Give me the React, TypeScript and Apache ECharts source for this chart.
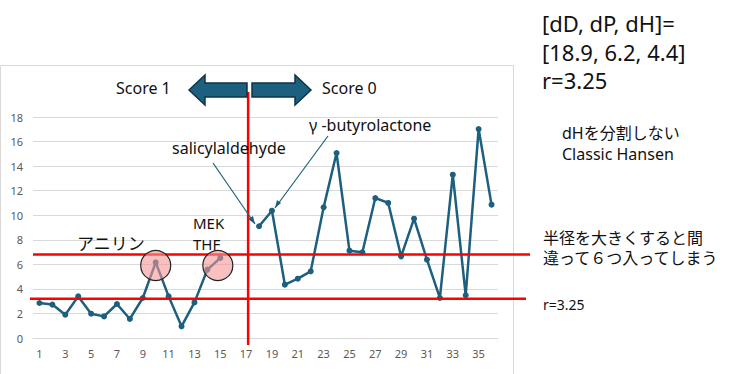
import React, { useEffect, useRef } from "react";
import * as echarts from "echarts";

const categories: string[] = Array.from({ length: 36 }, (_, i) => String(i + 1));
const scores: (number | null)[] = [
  2.85, 2.72, 1.9, 3.39, 1.98, 1.76, 2.77, 1.55, 3.26, 6.16,
  3.39, 0.95, 2.9, 5.57, 6.52, null, null, 9.1, 10.37, 4.34,
  4.83, 5.43, 10.64, 15.07, 7.11, 6.98, 11.4, 11.0, 6.65, 9.72,
  6.38, 3.26, 13.3, 3.48, 17.02, 10.86,
];
const upperLine = 6.8;
const lowerLine = 3.2;
const splitCategory = "17";
const circledA = "10";
const circledB = ["14", "15"];

const FONT = "'Noto Sans', 'Noto Sans CJK JP', sans-serif";
const TEAL = "#1d5f7e";

export default function App() {
  const ref = useRef<HTMLDivElement>(null);
  useEffect(() => {
    if (!ref.current) return;
    const chart = echarts.init(ref.current, null, { renderer: "svg" });
    chart.setOption({
      animation: false,
      backgroundColor: "#ffffff",
      grid: { left: 33, right: 257, top: 117, bottom: 36 },
      xAxis: {
        type: "category",
        data: categories,
        boundaryGap: true,
        axisLine: { show: true, lineStyle: { color: "#d9d9d9" } },
        axisTick: { show: false },
        axisLabel: { interval: 1, color: "#595959", fontSize: 11, margin: 10, fontFamily: "Noto Sans" },
      },
      yAxis: {
        type: "value",
        min: 0,
        max: 18,
        interval: 2,
        axisLine: { show: false },
        axisTick: { show: false },
        splitLine: { lineStyle: { color: "#d9d9d9", width: 1 } },
        axisLabel: { color: "#595959", fontSize: 11, margin: 10, fontFamily: "Noto Sans" },
      },
      series: [
        {
          type: "line",
          data: scores,
          connectNulls: false,
          symbol: "circle",
          symbolSize: 6,
          lineStyle: { color: TEAL, width: 2.5 },
          itemStyle: { color: TEAL },
          z: 3,
        },
      ],
    });

    const yU = chart.convertToPixel({ gridIndex: 0 }, [0, upperLine])[1];
    const yL = chart.convertToPixel({ gridIndex: 0 }, [0, lowerLine])[1];
    const xS = chart.convertToPixel({ gridIndex: 0 }, [splitCategory, 0])[0] + 2;
    const pA = chart.convertToPixel({ gridIndex: 0 }, [circledA, 6])[0];
    const pB1 = chart.convertToPixel({ gridIndex: 0 }, [circledB[0], 6])[0];
    const pB2 = chart.convertToPixel({ gridIndex: 0 }, [circledB[1], 6])[0];
    const cyCircle = chart.convertToPixel({ gridIndex: 0 }, [0, 5.9])[1];

    const txt = (x: number, y: number, text: string, size: number, extra: any = {}) => ({
      type: "text",
      x,
      y,
      z: 20,
      style: { text, fill: "#111", fontSize: size, fontFamily: FONT, textVerticalAlign: "middle", ...extra },
    });

    chart.setOption({
      graphic: [
        { type: "rect", shape: { x: 0.5, y: 65.5, width: 513, height: 330 }, style: { fill: "none", stroke: "#d9d9d9", lineWidth: 1 }, z: 0 },
        { type: "line", shape: { x1: 33, y1: yU, x2: 530, y2: yU }, style: { stroke: "#ff0000", lineWidth: 2.5 }, z: 10 },
        { type: "line", shape: { x1: 30, y1: yL, x2: 526, y2: yL }, style: { stroke: "#ff0000", lineWidth: 2.5 }, z: 10 },
        { type: "line", shape: { x1: xS, y1: 92, x2: xS, y2: 345 }, style: { stroke: "#ff0000", lineWidth: 2.5 }, z: 10 },
        { type: "circle", shape: { cx: pA, cy: cyCircle, r: 15 }, style: { fill: "rgba(245,150,150,0.6)", stroke: "#222", lineWidth: 1.2 }, z: 11 },
        { type: "circle", shape: { cx: (pB1 + pB2) / 2 + 4, cy: cyCircle, r: 15 }, style: { fill: "rgba(245,150,150,0.6)", stroke: "#222", lineWidth: 1.2 }, z: 11 },
        {
          type: "polygon",
          shape: { points: [[189, 90], [205, 75], [205, 83], [247, 83], [247, 97], [205, 97], [205, 105]] },
          style: { fill: TEAL, stroke: "#0f3447", lineWidth: 1.5 },
          z: 12,
        },
        {
          type: "polygon",
          shape: { points: [[311, 90], [295, 75], [295, 83], [252, 83], [252, 97], [295, 97], [295, 105]] },
          style: { fill: TEAL, stroke: "#0f3447", lineWidth: 1.5 },
          z: 12,
        },
        txt(116, 88, "Score 1", 16),
        txt(322, 88, "Score 0", 16),
        txt(172, 148, "salicylaldehyde", 16),
        txt(309, 125, "γ -butyrolactone", 16),
        { type: "line", shape: { x1: 213, y1: 163, x2: 255, y2: 224 }, style: { stroke: TEAL, lineWidth: 1.2 }, z: 12 },
        { type: "polygon", shape: { points: [[255, 224], [248, 219], [253, 216]] }, style: { fill: TEAL }, z: 12 },
        { type: "line", shape: { x1: 328, y1: 136, x2: 275, y2: 208 }, style: { stroke: TEAL, lineWidth: 1.2 }, z: 12 },
        { type: "polygon", shape: { points: [[275, 208], [277, 200], [281, 203]] }, style: { fill: TEAL }, z: 12 },
        txt(77, 243, "アニリン", 17),
        txt(193, 223, "MEK", 15),
        txt(193, 244, "THF", 15),
        txt(542, 23, "[dD, dP, dH]=", 22),
        txt(542, 52, "[18.9, 6.2, 4.4]", 22),
        txt(542, 80, "r=3.25", 22),
        txt(562, 133, "dHを分割しない", 16),
        txt(562, 154, "Classic Hansen", 16),
        txt(543, 238, "半径を大きくすると間", 16),
        txt(543, 258, "違って６つ入ってしまう", 16),
        txt(543, 304, "r=3.25", 14),
      ],
    });
    return () => chart.dispose();
  }, []);
  return (
    <div
      ref={ref}
      style={{ position: "fixed", left: 0, top: 0, width: 755, height: 374 }}
    />
  );
}
